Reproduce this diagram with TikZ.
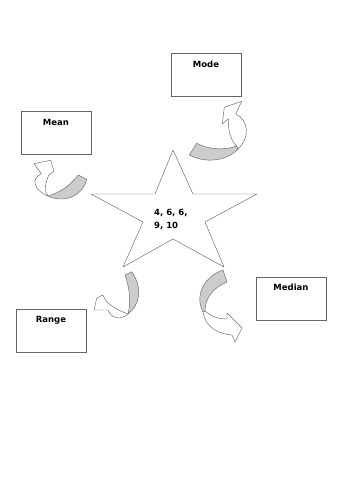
\documentclass[tikz,border=0pt]{standalone}
\usepackage{fontspec}
\setmainfont{DejaVu Sans}
\begin{document}
\begin{tikzpicture}[x=1pt,y=-1pt,
  box/.style={draw=black!60, line width=0.5pt, rectangle, minimum width=70pt, minimum height=43pt, inner sep=0pt},
  lbl/.style={font=\bfseries\fontsize{8.5}{10}\selectfont, inner sep=0pt},
  outl/.style={draw=black!60, line width=0.45pt, line join=round},
  back/.style={outl, fill=black!20},
  front/.style={outl, fill=white}]
\fill[white] (0,0) rectangle (354,500);
\useasboundingbox (0,0) rectangle (354,500);

% boxes
\node[box] (mean) at (56,133) {};
\node[lbl] (meant) at (56,122) {Mean};
\node[box] (mode) at (206,74.5) {};
\node[lbl] (modet) at (206,64) {Mode};
\node[box] (range) at (51,330.5) {};
\node[lbl] (ranget) at (51,320) {Range};
\node[box] (median) at (291,298.5) {};
\node[lbl] (mediant) at (291,287) {Median};

% star
\draw[outl] (173,150) -- (193,194) -- (257,194) -- (205,222) -- (224,267)
  -- (173,239) -- (123,267) -- (143,222) -- (91,194) -- (155,194) -- cycle;
\node[lbl, anchor=base west] (v1) at (154,215.5) {4, 6, 6,};
\node[lbl, anchor=base west] (v2) at (154,228.5) {9, 10};

% Mode arrow
\draw[back] (196.7,143.3) .. controls (207,149) and (224,151) .. (236.7,146)
  -- (238,149) .. controls (226,162) and (204,163) .. (189.3,155) -- cycle;
\draw[front] (238,149) .. controls (250,138) and (249,120) .. (235.7,114)
  -- (241.7,101.3) -- (224.3,107.3) -- (222.3,124) -- (228.3,118.7)
  .. controls (228,131) and (231,141) .. (236.7,146) -- cycle;

% Mean arrow
\draw[back] (78.3,175) .. controls (68,188) and (58,193) .. (48,196)
  .. controls (62,203) and (82,198) .. (86.7,179.3) -- cycle;
\draw[front] (48,196) .. controls (33,190) and (31,178) .. (41.3,173.7)
  -- (34,163.7) -- (50.7,160.3) -- (54,171.3) -- (48.7,175.3)
  .. controls (45,183) and (44,192) .. (48,196) -- cycle;

% Range arrow
\draw[back] (125,275) .. controls (130,290) and (131,302) .. (128,314)
  .. controls (140,305) and (143,288) .. (131.7,271.7) -- cycle;
\draw[front] (128,314) .. controls (120,321) and (111,318) .. (108,310)
  -- (94,310) -- (96.7,298.3) -- (102.7,295) -- (106.7,301.7)
  .. controls (112,307) and (120,311) .. (128,314) -- cycle;

% Median arrow
\draw[back] (223,270) .. controls (205,276) and (194,295) .. (203,312)
  -- (205,311) .. controls (205,298) and (213,288) .. (227,282) -- cycle;
\draw[front] (203,312) .. controls (206,329) and (220,334) .. (232,335)
  -- (235,342) -- (242,328) -- (227,313) -- (227,319)
  .. controls (218,319) and (210,316) .. (205,311) -- cycle;
\end{tikzpicture}
\end{document}
